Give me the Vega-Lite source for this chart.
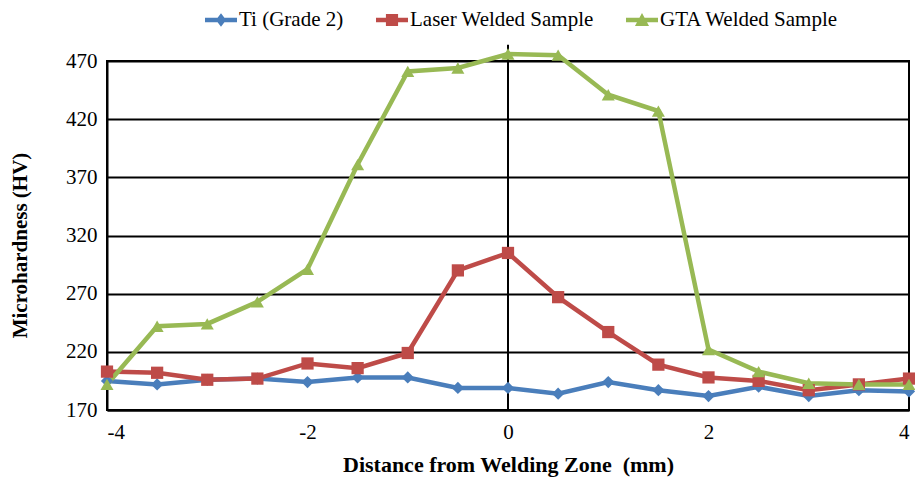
{
  "$schema": "https://vega.github.io/schema/vega-lite/v6.json",
  "width": 802,
  "height": 349,
  "autosize": {"type": "none"},
  "padding": {"left": 107, "top": 61, "right": 6, "bottom": 67},
  "background": "white",
  "config": {
    "font": "Liberation Serif",
    "view": {"stroke": "black", "strokeWidth": 2},
    "axis": {"labelFont": "Liberation Serif", "titleFont": "Liberation Serif", "labelColor": "black", "titleColor": "black"}
  },
  "datasets": {
    "pts": [
      {"d": -4, "s": "Ti (Grade 2)", "hv": 195}, {"d": -3.5, "s": "Ti (Grade 2)", "hv": 192}, {"d": -3, "s": "Ti (Grade 2)", "hv": 196}, {"d": -2.5, "s": "Ti (Grade 2)", "hv": 197}, {"d": -2, "s": "Ti (Grade 2)", "hv": 194}, {"d": -1.5, "s": "Ti (Grade 2)", "hv": 198}, {"d": -1, "s": "Ti (Grade 2)", "hv": 198}, {"d": -0.5, "s": "Ti (Grade 2)", "hv": 189}, {"d": 0, "s": "Ti (Grade 2)", "hv": 189}, {"d": 0.5, "s": "Ti (Grade 2)", "hv": 184}, {"d": 1, "s": "Ti (Grade 2)", "hv": 194}, {"d": 1.5, "s": "Ti (Grade 2)", "hv": 187}, {"d": 2, "s": "Ti (Grade 2)", "hv": 182}, {"d": 2.5, "s": "Ti (Grade 2)", "hv": 190}, {"d": 3, "s": "Ti (Grade 2)", "hv": 182}, {"d": 3.5, "s": "Ti (Grade 2)", "hv": 187}, {"d": 4, "s": "Ti (Grade 2)", "hv": 186},
      {"d": -4, "s": "Laser Welded Sample", "hv": 203}, {"d": -3.5, "s": "Laser Welded Sample", "hv": 202}, {"d": -3, "s": "Laser Welded Sample", "hv": 196}, {"d": -2.5, "s": "Laser Welded Sample", "hv": 197}, {"d": -2, "s": "Laser Welded Sample", "hv": 210}, {"d": -1.5, "s": "Laser Welded Sample", "hv": 206}, {"d": -1, "s": "Laser Welded Sample", "hv": 219}, {"d": -0.5, "s": "Laser Welded Sample", "hv": 290}, {"d": 0, "s": "Laser Welded Sample", "hv": 305}, {"d": 0.5, "s": "Laser Welded Sample", "hv": 267}, {"d": 1, "s": "Laser Welded Sample", "hv": 237}, {"d": 1.5, "s": "Laser Welded Sample", "hv": 209}, {"d": 2, "s": "Laser Welded Sample", "hv": 198}, {"d": 2.5, "s": "Laser Welded Sample", "hv": 195}, {"d": 3, "s": "Laser Welded Sample", "hv": 187}, {"d": 3.5, "s": "Laser Welded Sample", "hv": 192}, {"d": 4, "s": "Laser Welded Sample", "hv": 197},
      {"d": -4, "s": "GTA Welded Sample", "hv": 192}, {"d": -3.5, "s": "GTA Welded Sample", "hv": 242}, {"d": -3, "s": "GTA Welded Sample", "hv": 244}, {"d": -2.5, "s": "GTA Welded Sample", "hv": 263}, {"d": -2, "s": "GTA Welded Sample", "hv": 291}, {"d": -1.5, "s": "GTA Welded Sample", "hv": 381}, {"d": -1, "s": "GTA Welded Sample", "hv": 461}, {"d": -0.5, "s": "GTA Welded Sample", "hv": 464}, {"d": 0, "s": "GTA Welded Sample", "hv": 476}, {"d": 0.5, "s": "GTA Welded Sample", "hv": 475}, {"d": 1, "s": "GTA Welded Sample", "hv": 441}, {"d": 1.5, "s": "GTA Welded Sample", "hv": 427}, {"d": 2, "s": "GTA Welded Sample", "hv": 222}, {"d": 2.5, "s": "GTA Welded Sample", "hv": 203}, {"d": 3, "s": "GTA Welded Sample", "hv": 193}, {"d": 3.5, "s": "GTA Welded Sample", "hv": 192}, {"d": 4, "s": "GTA Welded Sample", "hv": 192}
    ],
    "zero": [{"d": 0, "lo": 170, "hi": 484}]
  },
  "encoding": {
    "x": {"field": "d", "type": "quantitative",
      "scale": {"domain": [-4, 4], "nice": false},
      "axis": {"values": [-4, -2, 0, 2, 4], "labelExpr": "'' + datum.value", "grid": false, "ticks": false, "domainColor": "black", "domainWidth": 2, "labelFontSize": 21, "labelPadding": 11, "title": "Distance from Welding Zone \u00a0(mm)", "titleFontSize": 22, "titleFontWeight": "bold", "titleBaseline": "alphabetic", "titleY": 61}
    },
    "y": {"type": "quantitative",
      "scale": {"domain": [170, 470], "nice": false, "zero": false},
      "axis": {"values": [170, 220, 270, 320, 370, 420, 470], "grid": true, "gridColor": "black", "gridWidth": 2, "gridOpacity": 1, "ticks": false, "domainColor": "black", "domainWidth": 2, "labelFontSize": 21, "labelPadding": 10, "title": "Microhardness (HV)", "titleFontSize": 21, "titleFontWeight": "bold", "titleX": -77, "titleY": 184}
    },
    "color": {"field": "s", "type": "nominal",
      "scale": {"domain": ["Ti (Grade 2)", "Laser Welded Sample", "GTA Welded Sample"], "range": ["#4A7EBB", "#BE4B48", "#98B954"]},
      "legend": {
        "orient": "none", "legendX": 98, "legendY": -57, "direction": "horizontal", "title": null, "padding": 0,
        "labelFontSize": 21, "labelFont": "Liberation Serif", "labelColor": "black", "labelOffset": 2, "labelLimit": 400,
        "symbolSize": 1024, "symbolStrokeWidth": 0, "symbolOpacity": 1, "columnPadding": 32,
        "encode": {"symbols": {"update": {
          "shape": {"signal": "datum.value === 'Ti (Grade 2)' ? 'M-1,-0.14H1V0.14H-1Z M0,-0.42L0.32,0L0,0.42L-0.32,0Z' : datum.value === 'Laser Welded Sample' ? 'M-1,-0.14H1V0.14H-1Z M-0.38,-0.38H0.38V0.38H-0.38Z' : 'M-1,-0.14H1V0.14H-1Z M0,-0.44L0.44,0.38H-0.44Z'"},
          "strokeWidth": {"value": 0}
        }}}
      }
    }
  },
  "layer": [
    {
      "data": {"name": "zero"},
      "mark": {"type": "rule", "color": "black", "strokeWidth": 2, "clip": false},
      "encoding": {
        "y": {"field": "lo", "type": "quantitative"},
        "y2": {"field": "hi"},
        "color": {"value": "black"}
      }
    },
    {
      "data": {"name": "pts"},
      "mark": {"type": "line", "strokeWidth": 4.5, "clip": false},
      "encoding": {"y": {"field": "hv", "type": "quantitative"}}
    },
    {
      "data": {"name": "pts"},
      "transform": [{"filter": "datum.s === 'Ti (Grade 2)'"}],
      "mark": {"type": "point", "filled": true, "opacity": 1, "clip": false, "shape": "diamond", "size": 150},
      "encoding": {"y": {"field": "hv", "type": "quantitative"}}
    },
    {
      "data": {"name": "pts"},
      "transform": [{"filter": "datum.s === 'Laser Welded Sample'"}],
      "mark": {"type": "point", "filled": true, "opacity": 1, "clip": false, "shape": "square", "size": 150},
      "encoding": {"y": {"field": "hv", "type": "quantitative"}}
    },
    {
      "data": {"name": "pts"},
      "transform": [{"filter": "datum.s === 'GTA Welded Sample'"}],
      "mark": {"type": "point", "filled": true, "opacity": 1, "clip": false, "shape": "triangle-up", "size": 170},
      "encoding": {"y": {"field": "hv", "type": "quantitative"}}
    }
  ]
}
